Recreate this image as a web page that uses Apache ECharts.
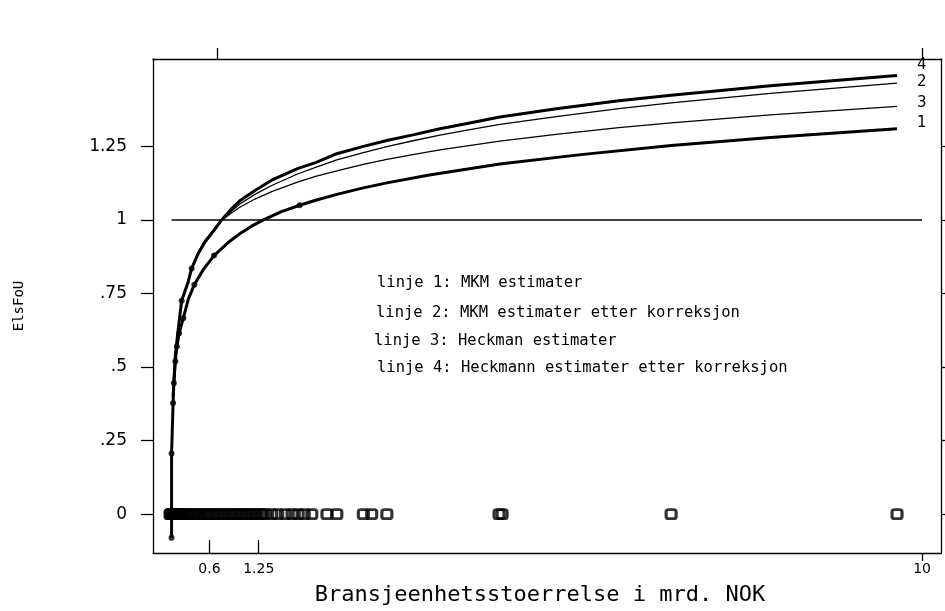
<!DOCTYPE html>
<html>
<head>
<meta charset="utf-8">
<script src="https://cdn.jsdelivr.net/npm/echarts/dist/echarts.min.js"></script>
<style>
  html, body { margin: 0; padding: 0; background: #fff; }
  #chart { width: 945px; height: 611px; }
</style>
</head>
<body>
<div id="chart"></div>
<script>
// Line 1: MKM estimates (thick, with observation dots)
const line1X = [0.10, 0.10, 0.10, 0.12, 0.13, 0.15, 0.17, 0.20, 0.255, 0.32, 0.40, 0.52, 0.66, 0.85, 1.0, 1.15, 1.31, 1.55, 1.79, 2.0, 2.28, 2.63, 2.94, 3.5, 4.43, 5.5, 6.69, 8.0, 9.67];
const line1Y = [-0.08, 0.0, 0.206, 0.378, 0.446, 0.52, 0.57, 0.615, 0.666, 0.73, 0.78, 0.832, 0.879, 0.924, 0.953, 0.978, 1.0, 1.028, 1.05, 1.067, 1.087, 1.109, 1.126, 1.153, 1.19, 1.222, 1.253, 1.28, 1.31];
const dot1X = [0.10, 0.10, 0.10, 0.12, 0.13, 0.15, 0.17, 0.20, 0.255, 0.40, 0.66, 1.79];
const dot1Y = [-0.08, 0.0, 0.206, 0.378, 0.446, 0.52, 0.57, 0.615, 0.666, 0.78, 0.879, 1.05];

// Lines 2, 3 and 4 share the same x positions
const upperX = [0.12, 0.135, 0.15, 0.175, 0.20, 0.233, 0.32, 0.365, 0.45, 0.54, 0.66, 0.76, 0.88, 1.0, 1.2, 1.42, 1.77, 2.0, 2.28, 2.63, 2.94, 3.3, 3.64, 4.0, 4.43, 5.2, 6.0, 6.69, 8.0, 9.67];
const line2Y = [0.40, 0.47, 0.54, 0.60, 0.655, 0.725, 0.79, 0.835, 0.885, 0.925, 0.963, 0.997, 1.028, 1.054, 1.087, 1.117, 1.157, 1.179, 1.204, 1.229, 1.249, 1.27, 1.288, 1.305, 1.325, 1.352, 1.378, 1.398, 1.43, 1.465];
const line3Y = [0.40, 0.47, 0.54, 0.60, 0.657, 0.728, 0.795, 0.84, 0.89, 0.93, 0.967, 0.998, 1.022, 1.043, 1.071, 1.096, 1.129, 1.148, 1.167, 1.189, 1.206, 1.223, 1.238, 1.252, 1.268, 1.292, 1.314, 1.33, 1.357, 1.386];
const line4Y = [0.40, 0.47, 0.54, 0.60, 0.655, 0.725, 0.79, 0.835, 0.885, 0.925, 0.965, 1.0, 1.035, 1.065, 1.10, 1.135, 1.175, 1.195, 1.225, 1.25, 1.27, 1.29, 1.31, 1.328, 1.35, 1.379, 1.405, 1.424, 1.456, 1.491];
const dot4X = [0.233, 0.365];
const dot4Y = [0.725, 0.835];

// Reference level ElsFoU = 1
const refX = [0.1, 10];
const refY = [1, 1];

// Observations with ElsFoU = 0 (open squares)
const zeroX = [0.08, 0.09, 0.095, 0.10, 0.10, 0.105, 0.11, 0.115, 0.12, 0.13, 0.14, 0.15, 0.16, 0.18, 0.20,
  0.22, 0.24, 0.27, 0.30, 0.33, 0.36, 0.39, 0.42, 0.45, 0.48, 0.52, 0.55, 0.58, 0.62, 0.66, 0.70, 0.73,
  0.77, 0.80, 0.84, 0.88, 0.91, 0.95, 0.99, 1.03, 1.07, 1.10, 1.14, 1.18, 1.22, 1.26, 1.30, 1.34,
  1.42, 1.50, 1.60, 1.69, 1.77, 1.85, 1.95, 2.15, 2.28, 2.63, 2.74, 2.94, 4.42, 4.46, 6.69, 9.67];

// Axis ticks and labels
const xLabelValues = [0.6, 1.25, 10];
const xInnerTicks = [0.6, 1.25];
const xOuterTicks = [10];
const xTopTicks = [0.708, 10];
const yTickValues = [0, 0.25, 0.5, 0.75, 1, 1.25];

const lineNames = ['1', '2', '3', '4'];
const notes = [
  'linje 1: MKM estimater',
  'linje 2: MKM estimater etter korreksjon',
  'linje 3: Heckman estimater',
  'linje 4: Heckmann estimater etter korreksjon'
];
const xTitle = 'Bransjeenhetsstoerrelse i mrd. NOK';
const yTitle = 'ElsFoU';

const zip = (xs, ys) => xs.map((x, i) => [x, ys[i]]);

const X_MIN = -0.145, X_MAX = 10.25, Y_MIN = -0.132, Y_MAX = 1.547;
const INK = '#000';
const labelFont = 'DejaVu Sans';
const monoFont = 'DejaVu Sans Mono';
const frameLine = { show: true, onZero: false, lineStyle: { color: INK, width: 1.3 } };
const tickStyle = { color: INK, width: 1.3 };

function endLabel(text, dy) {
  return {
    show: true,
    formatter: text,
    color: INK,
    fontFamily: labelFont,
    fontSize: 15,
    offset: [12, dy]
  };
}

const chart = echarts.init(document.getElementById('chart'), null, { renderer: 'canvas' });

chart.setOption({
  animation: false,
  backgroundColor: '#fff',
  grid: { left: 153, right: 4, top: 59, bottom: 55, containLabel: false },
  xAxis: [
    {
      type: 'value', position: 'bottom', min: X_MIN, max: X_MAX,
      axisLine: frameLine,
      axisTick: { show: true, inside: true, length: 13, customValues: xInnerTicks, lineStyle: tickStyle },
      axisLabel: { show: true, customValues: xLabelValues, margin: 9, color: INK, fontFamily: labelFont, fontSize: 14 },
      splitLine: { show: false },
      name: xTitle, nameLocation: 'middle', nameGap: 31,
      nameTextStyle: { color: INK, fontFamily: monoFont, fontSize: 22, padding: [0, 14, 0, 0] }
    },
    {
      type: 'value', position: 'bottom', min: X_MIN, max: X_MAX,
      axisLine: { show: false, onZero: false },
      axisTick: { show: true, inside: false, length: 8, customValues: xOuterTicks, lineStyle: tickStyle },
      axisLabel: { show: false },
      splitLine: { show: false }
    },
    {
      type: 'value', position: 'top', min: X_MIN, max: X_MAX,
      axisLine: frameLine,
      axisTick: { show: true, inside: false, length: 11, customValues: xTopTicks, lineStyle: tickStyle },
      axisLabel: { show: false },
      splitLine: { show: false }
    }
  ],
  yAxis: [
    {
      type: 'value', position: 'left', min: Y_MIN, max: Y_MAX,
      axisLine: frameLine,
      axisTick: { show: true, inside: false, length: 12, customValues: yTickValues, lineStyle: tickStyle },
      axisLabel: {
        show: true, customValues: yTickValues, margin: 26, color: INK,
        fontFamily: labelFont, fontSize: 17,
        formatter: v => String(v).replace(/^0\./, '.')
      },
      splitLine: { show: false },
      name: yTitle, nameLocation: 'middle', nameGap: 127,
      nameTextStyle: { color: INK, fontFamily: monoFont, fontSize: 14 }
    },
    {
      type: 'value', position: 'right', min: Y_MIN, max: Y_MAX,
      axisLine: frameLine,
      axisTick: { show: true, inside: false, length: 8, customValues: yTickValues, lineStyle: tickStyle },
      axisLabel: { show: false },
      splitLine: { show: false }
    }
  ],
  graphic: notes.map((t, i) => ({
    type: 'text',
    x: [377, 376, 374, 377][i],
    y: [283, 313, 341, 368][i],
    style: { text: t, fill: INK, font: '15.5px "' + monoFont + '"', verticalAlign: 'middle' }
  })),
  series: [
    {
      type: 'line', name: 'ref', data: zip(refX, refY), showSymbol: false, symbol: 'none',
      lineStyle: { color: INK, width: 1.5 }, z: 1
    },
    {
      type: 'line', name: lineNames[2], data: zip(upperX, line3Y), symbol: 'none',
      lineStyle: { color: INK, width: 1.3 }, endLabel: endLabel(lineNames[2], -3), z: 2
    },
    {
      type: 'line', name: lineNames[1], data: zip(upperX, line2Y), symbol: 'none',
      lineStyle: { color: INK, width: 1.3 }, endLabel: endLabel(lineNames[1], -1), z: 2
    },
    {
      type: 'line', name: lineNames[3], data: zip(upperX, line4Y), symbol: 'none',
      lineStyle: { color: INK, width: 3 }, endLabel: endLabel(lineNames[3], -10), z: 3
    },
    {
      type: 'line', name: lineNames[0], data: zip(line1X, line1Y), symbol: 'none',
      lineStyle: { color: INK, width: 3 }, endLabel: endLabel(lineNames[0], -6), z: 3
    },
    {
      type: 'scatter', data: zip(dot1X, dot1Y).concat(zip(dot4X, dot4Y)), symbol: 'circle', symbolSize: 6,
      itemStyle: { color: INK }, z: 4
    },
    {
      type: 'scatter', data: zeroX.map(x => [x, 0]), symbol: 'roundRect', symbolSize: [10, 9],
      itemStyle: { color: 'rgba(0,0,0,0)', borderColor: INK, borderWidth: 3 }, z: 5
    }
  ]
});
</script>
</body>
</html>
